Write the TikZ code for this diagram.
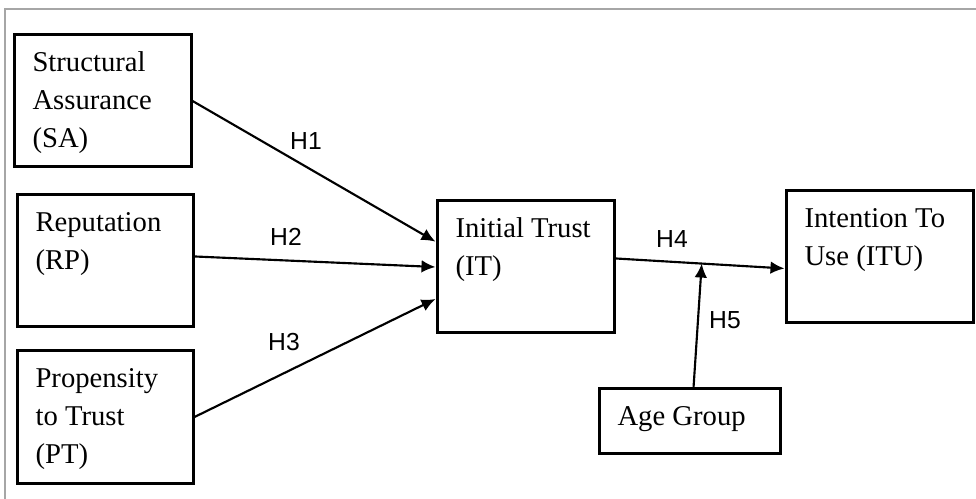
\documentclass[tikz,border=0pt]{standalone}
\usepackage{fontspec}
\setmainfont{Liberation Serif}
\newfontfamily\hypfont{Liberation Sans}
\usetikzlibrary{arrows.meta}

\begin{document}
\begin{tikzpicture}[
                x=0.75pt, y=-0.75pt,
                construct/.style={draw, line width=2.25pt, anchor=north west, align=flush left,
                  inner xsep=13.9pt, inner ysep=0pt, text width=#1,
                  text height=27.4pt, text depth=71.6pt,
                  font=\fontsize{21.5}{28.5}\selectfont},
                hyp/.style={font=\hypfont\fontsize{18.5}{21}\selectfont, inner sep=0pt},
                path/.style={-{Latex[length=10.5pt,width=9.5pt]}, line width=1.6pt},
              ]
              \useasboundingbox (0,0) rectangle (976,499);
              \draw[gray!70, line width=1.1pt] (5,499) -- (5,9) -- (976,9);

              \node[construct=105pt] (SA) at (12.5,33.5) {Structural\\Assurance\\(SA)};
              \node[construct=104.2pt] (RP) at (15.5,193.5) {Reputation\\(RP)};
              \node[construct=104.2pt] (PT) at (15.5,349.5) {Propensity\\to Trust\\(PT)};
              \node[construct=105pt] (IT) at (435.5,199.5) {Initial Trust\\(IT)};
              \node[construct=112.5pt] (ITU) at (784.5,189.5) {Intention To\\Use (ITU)};
              \node[construct=108pt, text depth=20.6pt] (AG) at (597.5,387.5) {Age Group};

              \draw[path] (SA.east) -- ([yshift=19pt]IT.west);
              \draw[path] ([yshift=3.4pt]RP.east) -- (IT.west);
              \draw[path] (PT.east) -- ([yshift=-24pt]IT.west);
              \draw[path] ([yshift=6.4pt]IT.east) -- coordinate[pos=0.51] (mod) ([yshift=-8.6pt]ITU.west);
              \draw[path] ([xshift=3pt]AG.north) -- (mod);

              \node[hyp] (h1) at (306,141) {H1};
              \node[hyp] (h2) at (286,237) {H2};
              \node[hyp] (h3) at (284,342) {H3};
              \node[hyp] (h4) at (672,239) {H4};
              \node[hyp] (h5) at (725,320) {H5};
              \end{tikzpicture}
\end{document}
